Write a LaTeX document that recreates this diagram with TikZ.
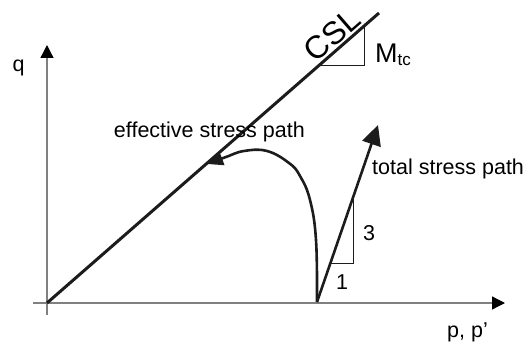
\documentclass[tikz,border=0pt]{standalone}
\usepackage{fontspec}
\setmainfont{Liberation Sans}
\usepackage{tikz}
\usetikzlibrary{arrows.meta,calc}
\definecolor{axisgray}{RGB}{128,128,128}
\definecolor{pathblack}{RGB}{28,28,28}

\begin{document}
\begin{tikzpicture}[x=1pt,y=-1pt,
  axis/.style={axisgray, line width=1.3pt},
  stresspath/.style={pathblack, line width=2.6pt},
  slopetri/.style={pathblack, line width=0.6pt},
  lbl/.style={font=\fontsize{21.5}{24}\selectfont, inner sep=0pt}]
\useasboundingbox (0,0) rectangle (525,345);
\coordinate (origin) at (47,303);
\coordinate (cslend) at (379,13);
\coordinate (start) at (317,302);
\coordinate (totaltip) at (378,125);
% axes
\draw[axis, -{Triangle[length=13pt,width=13pt,color=black]}] (33,303) -- (505,303);
\draw[axis, -{Triangle[length=13pt,width=13pt,color=black]}] (47,315) -- (47,45);
\node[lbl, anchor=base] (qlab) at (18.5,72) {q};
\node[lbl, anchor=base west] (plab) at (447,337) {p, p'};
% critical state line
\draw[stresspath, line width=3pt] (origin) -- (cslend);
\node[font=\fontsize{32}{36}\selectfont, inner sep=0pt, rotate=41] (csl) at (332,35) {CSL};
\draw[slopetri] (320,65) -- (364,65) -- (364,26);
\node[inner sep=0pt, anchor=base west] (mtc) at (375,63)
  {\fontsize{27}{28}\selectfont M\raisebox{-3pt}{\fontsize{17}{18}\selectfont tc}};
% total stress path
\draw[stresspath, -{Triangle[length=20pt,width=19pt]}] (start) -- (totaltip);
\draw[slopetri] (330,263) -- (353,263) -- (353,194);
\node[lbl, anchor=base] (three) at (369,240) {3};
\node[lbl, anchor=base] (one) at (342,289) {1};
\node[lbl, anchor=base west] (totlab) at (372,174) {total stress path};
% effective stress path
\draw[stresspath, -{Triangle[length=16pt,width=14pt]}] plot[smooth, tension=0.7]
  coordinates {(start) (316,240) (310,200) (300,176) (289,163) (267,151) (244,151) (226,157) (207,164)};
\node[lbl, anchor=base east] (efflab) at (305,137) {effective stress path};
\end{tikzpicture}
\end{document}
